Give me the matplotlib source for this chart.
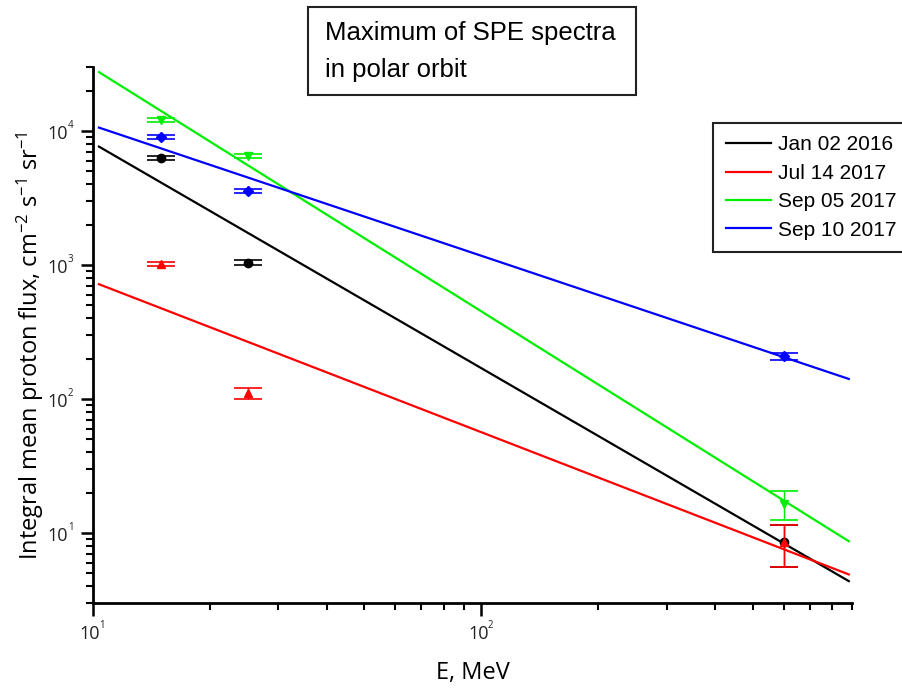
import matplotlib
matplotlib.use("Agg")
import matplotlib.pyplot as plt
import matplotlib.transforms as mtransforms
import numpy as np
from matplotlib.ticker import FixedLocator, NullFormatter, LogLocator
from matplotlib.patches import Rectangle

plt.rcParams['mathtext.fontset'] = 'custom'
plt.rcParams['mathtext.rm'] = 'Open Sans'
plt.rcParams['mathtext.it'] = 'Open Sans'

# ---- data ----
series_names = ["Jan 02 2016", "Jul 14 2017", "Sep 05 2017", "Sep 10 2017"]
series_colors = ["#000000", "#ff0000", "#00ee00", "#0000ff"]
series_markers = ["o", "^", "v", "D"]

energy = [15, 25, 600]
flux_jan02 = [6300, 1040, 8.5]
flux_jul14 = [1020, 110, 8.5]
flux_sep05 = [12100, 6500, 16.4]
flux_sep10 = [9000, 3570, 208]

err_lo_jan02 = [250, 40, 2.9]
err_hi_jan02 = [250, 40, 2.9]
err_lo_jul14 = [40, 10, 2.9]
err_hi_jul14 = [40, 10, 2.9]
err_lo_sep05 = [450, 250, 4.0]
err_hi_sep05 = [450, 250, 4.0]
err_lo_sep10 = [350, 140, 12]
err_hi_sep10 = [350, 140, 12]

fit_x = [10.36, 883]
fit_jan02 = [7640, 4.37]
fit_jul14 = [718, 4.90]
fit_sep05 = [27480, 8.67]
fit_sep10 = [10590, 141]

flux = [flux_jan02, flux_jul14, flux_sep05, flux_sep10]
err_lo = [err_lo_jan02, err_lo_jul14, err_lo_sep05, err_lo_sep10]
err_hi = [err_hi_jan02, err_hi_jul14, err_hi_sep05, err_hi_sep10]
fits = [fit_jan02, fit_jul14, fit_sep05, fit_sep10]

xticks_major = [10, 100]
xtick_exponents = ["1", "2"]
yticks_major = [10, 100, 1000, 10000]
ytick_exponents = ["1", "2", "3", "4"]

title_lines = ["Maximum of SPE spectra", "in polar orbit"]

# ---- figure ----
fig = plt.figure(figsize=(9.02, 6.88), dpi=100)
ax = fig.add_axes([93/902, 1-603/688, (852-93)/902, (603-67)/688])

handles = []
for name, c, m, fx, y, lo, hi in zip(series_names, series_colors, series_markers, fits, flux, err_lo, err_hi):
    lx = np.logspace(np.log10(fit_x[0]), np.log10(fit_x[1]), 50)
    b = np.log(fx[1]/fx[0]) / np.log(fit_x[1]/fit_x[0])
    ly = fx[0] * (lx/fit_x[0])**b
    h, = ax.plot(lx, ly, color=c, lw=1.6, label=name)
    handles.append(h)
    ax.errorbar(energy, y, yerr=[lo, hi], fmt=m, color=c, ms=6 if m != "D" else 5,
                ecolor=c, elinewidth=1.0, capsize=10, capthick=1.2)

ax.set_xscale('log')
ax.set_yscale('log')
ax.set_xlim(10, 900)
ax.set_ylim(3, 30000)

ax.xaxis.set_major_locator(FixedLocator(xticks_major))
ax.xaxis.set_minor_locator(LogLocator(base=10, subs=np.arange(2, 10)))
ax.xaxis.set_minor_formatter(NullFormatter())
ax.yaxis.set_major_locator(FixedLocator(yticks_major))
ax.yaxis.set_minor_locator(LogLocator(base=10, subs=np.arange(2, 10)))
ax.yaxis.set_minor_formatter(NullFormatter())

for s in ['top', 'right']:
    ax.spines[s].set_visible(False)
for s in ['left', 'bottom']:
    ax.spines[s].set_linewidth(2)

ax.tick_params(which='major', direction='out', length=9, width=1.8,
               labelleft=False, labelbottom=False)
ax.tick_params(which='minor', direction='out', length=5, width=1.5)

# tick labels: "10" with a small exponent
tick_color = '#222222'
ytr = ax.get_yaxis_transform()
for v, e in zip(yticks_major, ytick_exponents):
    t1 = mtransforms.offset_copy(ytr, fig=fig, x=-25, y=-3, units='dots')
    ax.text(0, v, "10", transform=t1, ha='right', va='center', fontsize=13,
            family='Open Sans', color=tick_color)
    t2 = mtransforms.offset_copy(ytr, fig=fig, x=-25, y=5, units='dots')
    ax.text(0, v, e, transform=t2, ha='left', va='center', fontsize=7,
            family='Open Sans', color=tick_color)
xtr = ax.get_xaxis_transform()
for v, e in zip(xticks_major, xtick_exponents):
    t1 = mtransforms.offset_copy(xtr, fig=fig, x=-3, y=-31, units='dots')
    ax.text(v, 0, "10", transform=t1, ha='center', va='center', fontsize=13,
            family='Open Sans', color=tick_color)
    t2 = mtransforms.offset_copy(xtr, fig=fig, x=6, y=-23, units='dots')
    ax.text(v, 0, e, transform=t2, ha='left', va='center', fontsize=7,
            family='Open Sans', color=tick_color)

ax.set_xlabel("E, MeV", fontsize=17, family='Open Sans', va='center')
ax.xaxis.set_label_coords(0.5, (603-673)/536)
ax.set_ylabel(r"Integral mean proton flux, cm$^{\mathregular{-2}}$ s$^{\mathregular{-1}}$ sr$^{\mathregular{-1}}$",
              fontsize=17, family='Open Sans', va='center')
ax.yaxis.set_label_coords((30-93)/759, 0.48)

leg = fig.legend(handles=handles, loc='upper left', bbox_to_anchor=(713/902, 1-123/688),
                 frameon=True, fancybox=False, edgecolor='#222222', framealpha=1,
                 prop={'family': 'Liberation Sans', 'size': 15},
                 handlelength=2.2, handletextpad=0.3, labelspacing=0.45,
                 borderpad=0.6, borderaxespad=0)
leg.get_frame().set_linewidth(1.5)

fig.text(325/902, 1-33/688, title_lines[0], fontsize=18.5,
         family='Liberation Sans', va='center', ha='left')
fig.text(325/902, 1-70/688, title_lines[1], fontsize=18.5,
         family='Liberation Sans', va='center', ha='left')
fig.patches.append(Rectangle((308/902, 1-95/688), (636-308)/902, (95-7)/688,
                             transform=fig.transFigure, fill=False, edgecolor='#222222', lw=1.5))

fig.savefig("out.png", dpi=100)
